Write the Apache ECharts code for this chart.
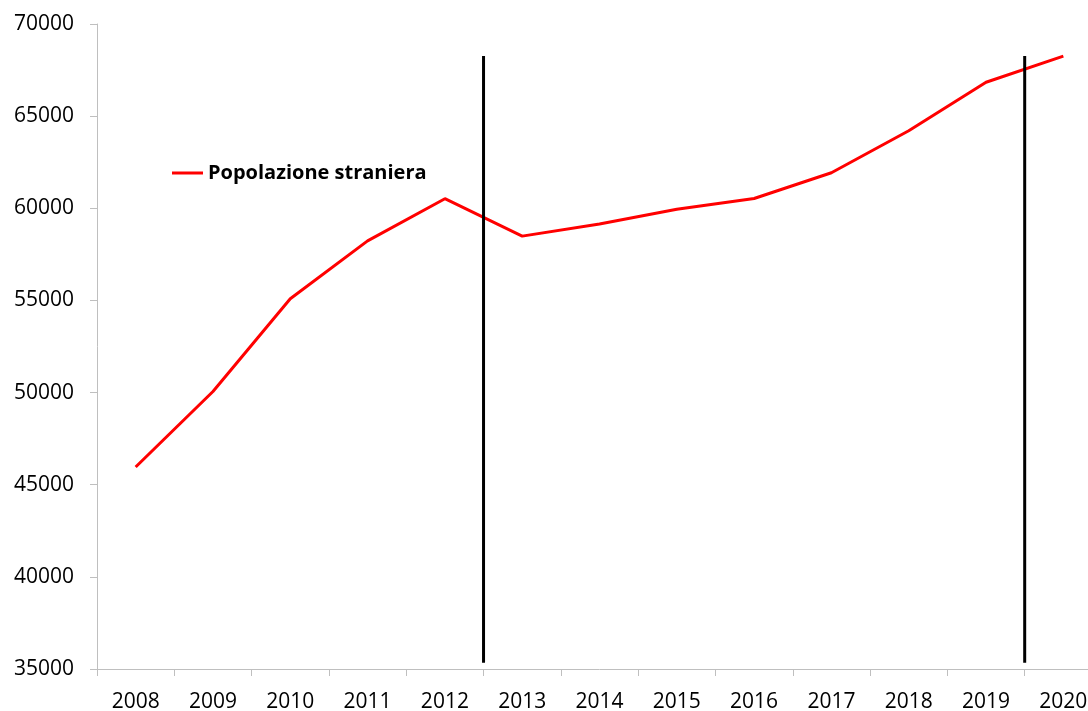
<!DOCTYPE html>
<html>
<head>
<meta charset="utf-8">
<script src="https://cdn.jsdelivr.net/npm/echarts@6/dist/echarts.min.js"></script>
<style>
  html, body { margin: 0; padding: 0; background: #ffffff; overflow: hidden; }
  #chart { width: 1110px; height: 711px; }
</style>
</head>
<body>
<div id="chart"></div>
<script>
// Anni e popolazione straniera residente
const years = ['2008', '2009', '2010', '2011', '2012', '2013', '2014', '2015', '2016', '2017', '2018', '2019', '2020'];
const popolazioneStraniera = [45960, 50060, 55090, 58230, 60520, 58490, 59150, 59950, 60530, 61930, 64210, 66840, 68260];

// Linee verticali di separazione (tra 2012/2013 e tra 2019/2020)
const separatori = [2012.5, 2019.5];
const separatoreDa = 35340;
const separatoreA = 68270;

// Scala dell'asse verticale
const yMin = 35000;
const yMax = 70000;
const yStep = 5000;

const FONT = '"Open Sans", "Noto Sans", sans-serif';
const AXIS_GRAY = '#bfbfbf';

const chart = echarts.init(document.getElementById('chart'), null, { renderer: 'canvas' });

const separatorSeries = separatori.map((x, i) => ({
  name: 'sep' + i,
  type: 'line',
  xAxisIndex: 1,
  yAxisIndex: 0,
  data: [[x, separatoreDa], [x, separatoreA]],
  symbol: 'none',
  silent: true,
  lineStyle: { color: '#000000', width: 3 },
  z: 3
}));

chart.setOption({
  animation: false,
  backgroundColor: '#ffffff',
  textStyle: { fontFamily: FONT },
  grid: { left: 97, top: 24, width: 1005, height: 645, containLabel: false, outerBoundsMode: 'none' },
  legend: {
    data: [{ name: 'Popolazione straniera', icon: 'rect' }],
    left: 167,
    top: 158,
    itemWidth: 31,
    itemHeight: 3,
    textStyle: { fontFamily: FONT, fontWeight: 'bold', fontSize: 20, color: '#000000' }
  },
  xAxis: [
    {
      type: 'category',
      data: years,
      boundaryGap: true,
      axisLine: { show: true, lineStyle: { color: AXIS_GRAY, width: 1 } },
      axisTick: { show: true, interval: 0, length: 7, lineStyle: { color: AXIS_GRAY } },
      axisLabel: { interval: 0, margin: 23, fontSize: 21, color: '#000000', fontFamily: FONT },
      splitLine: { show: false }
    },
    {
      type: 'value',
      min: 2007.5,
      max: 2020.5,
      show: false
    }
  ],
  yAxis: {
    type: 'value',
    min: yMin,
    max: yMax,
    interval: yStep,
    axisLine: { show: true, lineStyle: { color: AXIS_GRAY, width: 1 } },
    axisTick: { show: true, length: 7, lineStyle: { color: AXIS_GRAY } },
    axisLabel: {
      margin: 23, fontSize: 21, color: '#000000', fontFamily: FONT,
      formatter: (v) => String(v)
    },
    splitLine: { show: false }
  },
  series: [
    {
      name: 'Popolazione straniera',
      type: 'line',
      data: popolazioneStraniera,
      symbol: 'none',
      lineStyle: { color: '#ff0000', width: 3 },
      itemStyle: { color: '#ff0000' },
      z: 2
    },
    ...separatorSeries
  ]
});
</script>
</body>
</html>
